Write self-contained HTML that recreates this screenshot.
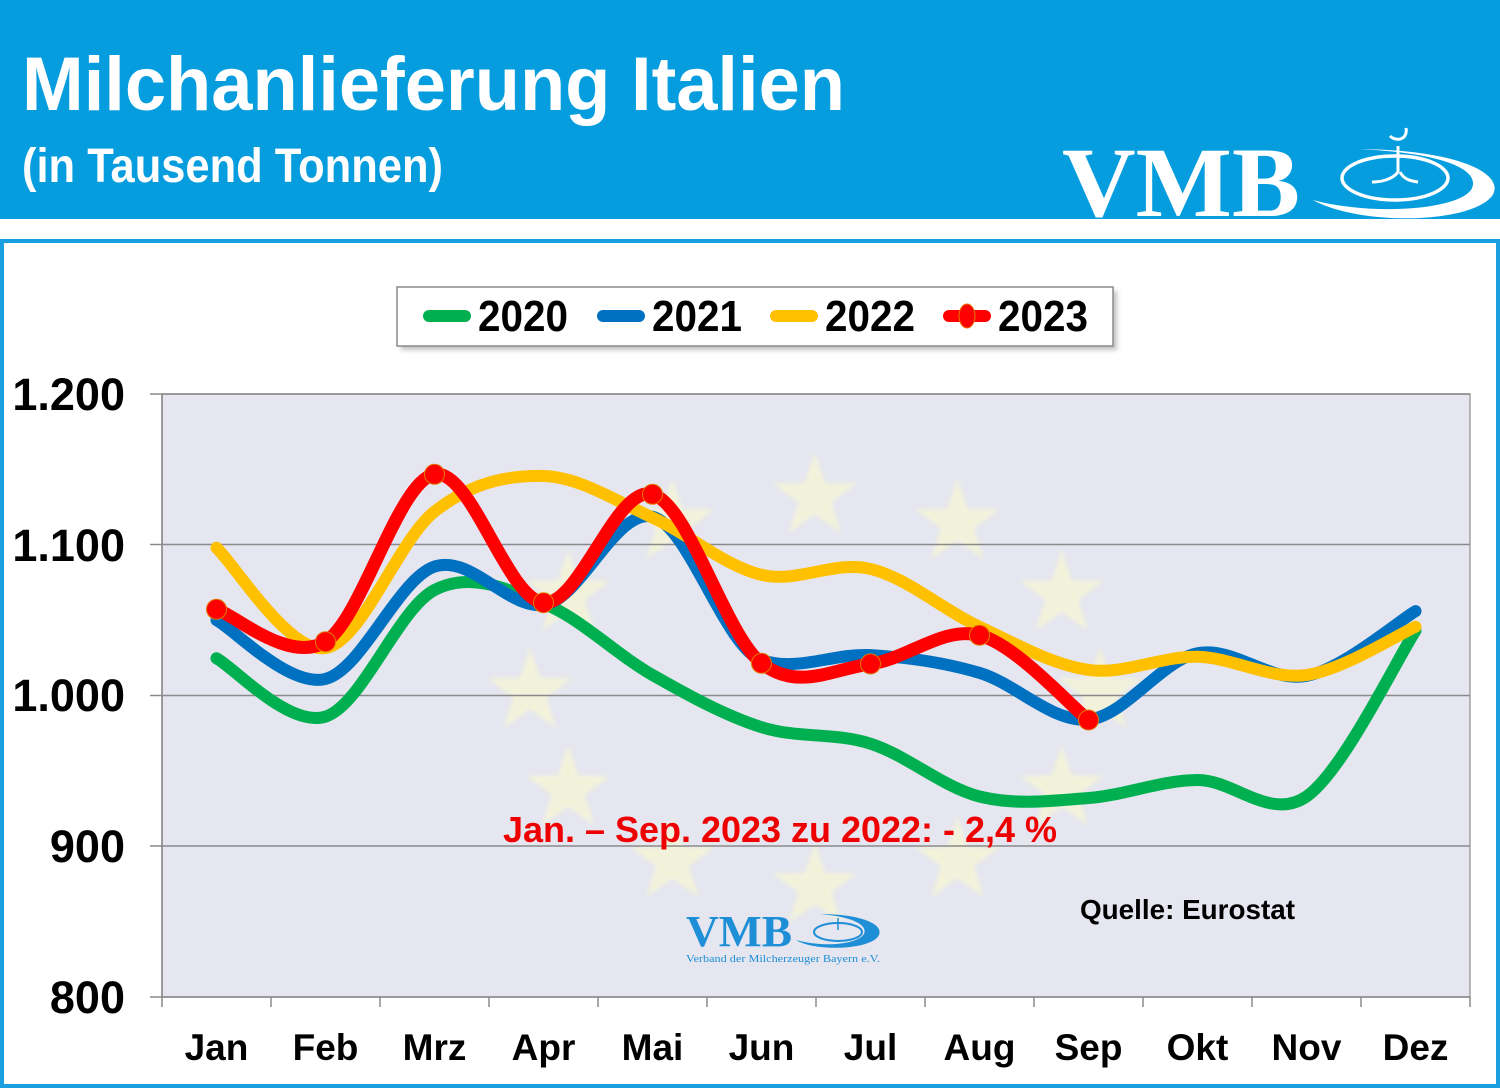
<!DOCTYPE html>
<html><head><meta charset="utf-8"><style>
html,body{margin:0;padding:0;background:#fff;overflow:hidden;}
svg{display:block;}
text{font-family:"Liberation Sans",Arial,sans-serif;}
</style></head><body>
<svg width="1500" height="1090" viewBox="0 0 1500 1090" xmlns="http://www.w3.org/2000/svg">
<defs>
<path id="star" d="M0,-45 L10.1,-13.9 L42.8,-13.9 L16.3,5.3 L26.5,36.4 L0,17.2 L-26.5,36.4 L-16.3,5.3 L-42.8,-13.9 L-10.1,-13.9 Z"/>
<filter id="blur" x="-20%" y="-20%" width="140%" height="140%"><feGaussianBlur stdDeviation="2.5"/></filter>
<filter id="sh" x="-5%" y="-20%" width="110%" height="150%"><feGaussianBlur stdDeviation="2.5"/></filter>
</defs>
<!-- header -->
<rect x="0" y="0" width="1500" height="219" fill="#069ddf"/>
<text x="22" y="110" font-size="76" font-weight="bold" fill="#fff" textLength="823" lengthAdjust="spacingAndGlyphs">Milchanlieferung Italien</text>
<text x="22" y="182" font-size="48" font-weight="bold" fill="#fff" textLength="421" lengthAdjust="spacingAndGlyphs">(in Tausend Tonnen)</text>
<text x="1062" y="216" font-size="100" font-weight="bold" fill="#fff" textLength="238" lengthAdjust="spacingAndGlyphs" style="font-family:'Liberation Serif',serif">VMB</text>
<!-- swirl logo -->
<path d="M1313,200 C1360,226 1470,224 1492,196 C1506,176 1465,150 1357,149 C1450,153 1482,172 1471,190 C1456,210 1372,216 1313,200 Z" fill="#fff"/>
<ellipse cx="1395" cy="178" rx="53" ry="22" fill="none" stroke="#fff" stroke-width="3.5"/>
<path d="M1398,146 L1398,172 M1398,172 C1392,180 1380,182 1372,182 M1400,172 C1404,180 1412,181 1418,182" stroke="#fff" stroke-width="3" fill="none"/>
<path d="M1390,136 C1396,142 1408,140 1406,128" stroke="#fff" stroke-width="3" fill="none"/>
<!-- content box -->
<rect x="2" y="241" width="1496" height="845" fill="#fff" stroke="#1a9fe0" stroke-width="4"/>
<!-- plot area -->
<rect x="162" y="394" width="1308" height="603" fill="#e5e6f0" stroke="#a0a0a0" stroke-width="1.5"/>
<g fill="#f5f5d6" opacity="0.85" filter="url(#blur)">
<use href="#star" x="815" y="497"/>
<use href="#star" x="957.5" y="523"/>
<use href="#star" x="1061.8" y="594.5"/>
<use href="#star" x="1100" y="692"/>
<use href="#star" x="1061.8" y="789.5"/>
<use href="#star" x="957.5" y="861"/>
<use href="#star" x="815" y="887"/>
<use href="#star" x="672.5" y="861"/>
<use href="#star" x="568.2" y="789.5"/>
<use href="#star" x="530" y="692"/>
<use href="#star" x="568.2" y="594.5"/>
<use href="#star" x="672.5" y="523"/>
</g>
<!-- gridlines -->
<g stroke="#8a8a8a" stroke-width="1.5">
<line x1="150" y1="394" x2="1470" y2="394"/>
<line x1="150" y1="544.5" x2="1470" y2="544.5"/>
<line x1="150" y1="695.5" x2="1470" y2="695.5"/>
<line x1="150" y1="846" x2="1470" y2="846"/>
<line x1="150" y1="997" x2="1470" y2="997"/>
<line x1="162" y1="394" x2="162" y2="1007"/>
<line x1="271" y1="997" x2="271" y2="1007"/>
<line x1="380" y1="997" x2="380" y2="1007"/>
<line x1="489" y1="997" x2="489" y2="1007"/>
<line x1="598" y1="997" x2="598" y2="1007"/>
<line x1="707" y1="997" x2="707" y2="1007"/>
<line x1="816" y1="997" x2="816" y2="1007"/>
<line x1="925" y1="997" x2="925" y2="1007"/>
<line x1="1034" y1="997" x2="1034" y2="1007"/>
<line x1="1143" y1="997" x2="1143" y2="1007"/>
<line x1="1252" y1="997" x2="1252" y2="1007"/>
<line x1="1361" y1="997" x2="1361" y2="1007"/>
<line x1="1470" y1="997" x2="1470" y2="1007"/>
</g>
<!-- small VMB logo -->
<text x="686" y="946" font-size="44" font-weight="bold" fill="#1e8fd6" textLength="106" lengthAdjust="spacingAndGlyphs" style="font-family:'Liberation Serif',serif">VMB</text>
<path d="M796,940 C815,952 872,950 879,935 C884,924 860,914 820,914 C855,917 868,926 864,934 C858,944 825,948 796,940 Z" fill="#1e8fd6"/>
<ellipse cx="838" cy="932" rx="24" ry="9" fill="none" stroke="#1e8fd6" stroke-width="2"/>
<line x1="838" y1="918" x2="838" y2="930" stroke="#1e8fd6" stroke-width="1.5"/>
<text x="686" y="962" font-size="10" fill="#1e8fd6" textLength="194" lengthAdjust="spacingAndGlyphs" style="font-family:'Liberation Serif',serif">Verband der Milcherzeuger Bayern e.V.</text>
<!-- series -->
<g fill="none" stroke-width="12" stroke-linecap="round" stroke-linejoin="round">
<path stroke="#00b050" d="M216.5,658.3 C234.67,668.02 289.17,727.98 325.5,716.6 C361.83,705.22 398.17,608.85 434.5,590 C470.83,571.15 507.17,589.33 543.5,603.5 C579.83,617.67 616.17,654.38 652.5,675 C688.83,695.62 725.17,715.75 761.5,727.2 C797.83,738.65 834.17,732.15 870.5,743.7 C906.83,755.25 943.17,787.45 979.5,796.5 C1015.83,805.55 1052.17,800.75 1088.5,798 C1124.83,795.25 1161.17,780.25 1197.5,780 C1233.83,779.75 1270.17,821.38 1306.5,796.5 C1342.83,771.62 1397.33,658.33 1415.5,630.7"/>
<path stroke="#0070c0" d="M216.5,620.1 C234.67,629.9 289.17,687.82 325.5,678.9 C361.83,669.98 398.17,578.92 434.5,566.6 C470.83,554.28 507.17,609 543.5,605 C579.83,601 616.17,507.52 652.5,516.7 C688.83,525.88 725.17,648.1 761.5,660.1 C797.83,672.1 834.17,652.97 870.5,655.1 C906.83,657.23 943.17,662.15 979.5,672.9 C1015.83,683.65 1052.17,722.87 1088.5,719.6 C1124.83,716.33 1161.17,660.58 1197.5,653.3 C1233.83,646.02 1270.17,682.93 1306.5,675.9 C1342.83,668.87 1397.33,621.9 1415.5,611.1"/>
<path stroke="#ffc000" d="M216.5,547.8 C234.67,564.5 289.17,654.03 325.5,648 C361.83,641.97 398.17,540.27 434.5,511.6 C470.83,482.93 507.17,475 543.5,476 C579.83,477 616.17,501.12 652.5,517.6 C688.83,534.08 725.17,566.35 761.5,574.9 C797.83,583.45 834.17,560.25 870.5,568.9 C906.83,577.55 943.17,609.97 979.5,626.8 C1015.83,643.63 1052.17,664.9 1088.5,669.9 C1124.83,674.9 1161.17,655.95 1197.5,656.8 C1233.83,657.65 1270.17,680 1306.5,675 C1342.83,670 1397.33,634.83 1415.5,626.8"/>
<path stroke="#ff0000" stroke-width="13" d="M216.5,609.3 C234.67,614.7 289.17,664.2 325.5,641.7 C361.83,619.2 398.17,480.8 434.5,474.3 C470.83,467.8 507.17,599.37 543.5,602.7 C579.83,606.03 616.17,484.2 652.5,494.3 C688.83,504.4 725.17,635.03 761.5,663.3 C797.83,691.57 834.17,668.58 870.5,663.9 C906.83,659.22 943.17,625.85 979.5,635.2 C1015.83,644.55 1070.33,705.87 1088.5,720"/>
</g>
<g fill="#ff0000" stroke="#e07a00" stroke-width="1">
<circle cx="216.5" cy="609.3" r="10"/>
<circle cx="325.5" cy="641.7" r="10"/>
<circle cx="434.5" cy="474.3" r="10"/>
<circle cx="543.5" cy="602.7" r="10"/>
<circle cx="652.5" cy="494.3" r="10"/>
<circle cx="761.5" cy="663.3" r="10"/>
<circle cx="870.5" cy="663.9" r="10"/>
<circle cx="979.5" cy="635.2" r="10"/>
<circle cx="1088.5" cy="720" r="10"/>
</g>
<!-- annotations -->
<text x="503" y="842" font-size="36" font-weight="bold" fill="#ee0000" textLength="554" lengthAdjust="spacingAndGlyphs">Jan. – Sep. 2023 zu 2022: - 2,4 %</text>
<text x="1080" y="919" font-size="28" font-weight="bold" fill="#000" textLength="215" lengthAdjust="spacingAndGlyphs">Quelle: Eurostat</text>
<!-- y labels -->
<g font-size="45" font-weight="bold" fill="#000" text-anchor="end">
<text x="125" y="410">1.200</text>
<text x="125" y="561">1.100</text>
<text x="125" y="711">1.000</text>
<text x="125" y="862">900</text>
<text x="125" y="1013">800</text>
</g>
<!-- x labels -->
<g font-size="37" font-weight="bold" fill="#000" text-anchor="middle">
<text x="216.5" y="1060">Jan</text>
<text x="325.5" y="1060">Feb</text>
<text x="434.5" y="1060">Mrz</text>
<text x="543.5" y="1060">Apr</text>
<text x="652.5" y="1060">Mai</text>
<text x="761.5" y="1060">Jun</text>
<text x="870.5" y="1060">Jul</text>
<text x="979.5" y="1060">Aug</text>
<text x="1088.5" y="1060">Sep</text>
<text x="1197.5" y="1060">Okt</text>
<text x="1306.5" y="1060">Nov</text>
<text x="1415.5" y="1060">Dez</text>
</g>
<!-- legend -->
<rect x="401" y="291" width="716" height="59" fill="#9a9a9a" opacity="0.6" filter="url(#sh)"/>
<rect x="397" y="287" width="716" height="59" fill="#fff" stroke="#8a8a8a" stroke-width="1.5"/>
<g stroke-width="12" stroke-linecap="round">
<line x1="429" y1="316" x2="465" y2="316" stroke="#00b050"/>
<line x1="603" y1="316" x2="639" y2="316" stroke="#0070c0"/>
<line x1="776" y1="316" x2="812" y2="316" stroke="#ffc000"/>
<line x1="949" y1="316" x2="985" y2="316" stroke="#ff0000"/>
</g>
<ellipse cx="967" cy="316" rx="8" ry="12" fill="#ff0000" stroke="#e07a00" stroke-width="1"/>
<g font-size="44" font-weight="bold" fill="#000">
<text x="478" y="331" textLength="90" lengthAdjust="spacingAndGlyphs">2020</text>
<text x="652" y="331" textLength="90" lengthAdjust="spacingAndGlyphs">2021</text>
<text x="825" y="331" textLength="90" lengthAdjust="spacingAndGlyphs">2022</text>
<text x="998" y="331" textLength="90" lengthAdjust="spacingAndGlyphs">2023</text>
</g>
</svg>
</body></html>
